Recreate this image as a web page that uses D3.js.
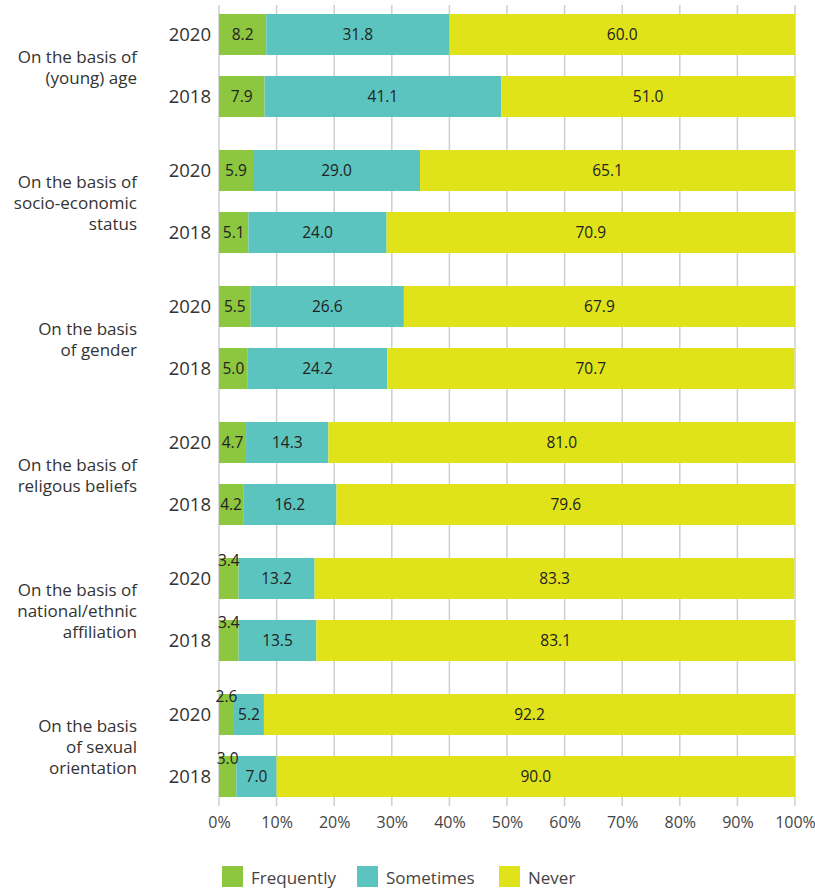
<!DOCTYPE html>
<html>
<head>
<meta charset="utf-8">
<script src="https://cdn.jsdelivr.net/npm/d3@7"></script>
<style>
  html, body { margin: 0; padding: 0; background: #fff; }
  svg { display: block; font-family: "Open Sans", "Noto Sans", sans-serif; }
</style>
</head>
<body>
<div id="chart"></div>
<script>
// Categories (each one split into two survey years)
const categories = [
  ["On the basis of", "(young) age"],
  ["On the basis of", "socio-economic", "status"],
  ["On the basis", "of gender"],
  ["On the basis of", "religous beliefs"],
  ["On the basis of", "national/ethnic", "affiliation"],
  ["On the basis", "of sexual", "orientation"]
];
const years = ["2020", "2018"];
const seriesNames = ["Frequently", "Sometimes", "Never"];
const seriesColors = ["#8dc63f", "#5bc4bf", "#e0e31a"];

// Shares per category, in the order 2020, 2018
const frequently = [[8.2, 7.9], [5.9, 5.1], [5.5, 5.0], [4.7, 4.2], [3.4, 3.4], [2.6, 3.0]];
const sometimes  = [[31.8, 41.1], [29.0, 24.0], [26.6, 24.2], [14.3, 16.2], [13.2, 13.5], [5.2, 7.0]];
const never      = [[60.0, 51.0], [65.1, 70.9], [67.9, 70.7], [81.0, 79.6], [83.3, 83.1], [92.2, 90.0]];
const tickValues = [0, 10, 20, 30, 40, 50, 60, 70, 80, 90, 100];

const W = 815, H = 890;
const svg = d3.select("#chart").append("svg").attr("width", W).attr("height", H);

const x = d3.scaleLinear().domain([0, 100]).range([219, 795]);

// Outer band = category group, inner band = year
const group = d3.scaleBand().domain(d3.range(categories.length)).range([-2.5, 813.5]);
const inner = d3.scaleBand().domain(years).range([0, group.bandwidth()]).paddingInner(0.339).paddingOuter(0.266);

// Rows flattened
const rows = [];
categories.forEach((c, i) => {
  years.forEach((yr, j) => {
    const vals = [frequently[i][j], sometimes[i][j], never[i][j]];
    let acc = 0;
    const segs = vals.map((v, k) => { const s = { k, v, x0: acc, x1: acc + v }; acc += v; return s; });
    rows.push({ i, yr, y: group(i) + inner(yr), segs });
  });
});

// Vertical gridlines
const gridTop = 5, gridBottom = 806;
svg.append("g").selectAll("line").data(tickValues).join("line")
  .attr("x1", d => x(d)).attr("x2", d => x(d))
  .attr("y1", gridTop).attr("y2", gridBottom)
  .attr("stroke", "#cfcfcf").attr("stroke-width", 1.5);

// X axis labels
const axis = d3.axisBottom(x).tickValues(tickValues).tickFormat(d => d + "%").tickSize(0).tickPadding(0);
const gAxis = svg.append("g").attr("transform", `translate(0, 817)`).call(axis);
gAxis.select(".domain").remove();
gAxis.selectAll("text").attr("font-size", 16).attr("fill", "#444").attr("dy", "0.71em")
  .attr("font-family", "\"Open Sans\", sans-serif");

// Bars
const bh = inner.bandwidth();
const rowG = svg.append("g").selectAll("g").data(rows).join("g")
  .attr("transform", d => `translate(0, ${d.y})`);

rowG.selectAll("rect").data(d => d.segs).join("rect")
  .attr("x", d => x(d.x0)).attr("width", d => x(d.x1) - x(d.x0))
  .attr("y", 0).attr("height", bh)
  .attr("fill", d => seriesColors[d.k]);

// Value labels: small segments get the label lifted to the bar top
rowG.selectAll("text.val").data(d => d.segs).join("text")
  .attr("class", "val")
  .attr("x", d => (x(d.x0) + x(d.x1)) / 2)
  .attr("y", d => d.v < 4 ? 3 : bh / 2)
  .attr("dy", "0.35em")
  .attr("text-anchor", "middle")
  .attr("font-size", 15.5)
  .attr("fill", "#222")
  .text(d => d.v.toFixed(1));

// Year labels
rowG.append("text")
  .attr("x", 211).attr("y", bh / 2).attr("dy", "0.35em")
  .attr("text-anchor", "end").attr("font-size", 18.5).attr("fill", "#333")
  .text(d => d.yr);

// Category labels
const lineH = 21;
svg.append("g").selectAll("text").data(categories).join("text")
  .attr("text-anchor", "end").attr("font-size", 17).attr("fill", "#333")
  .each(function (lines, i) {
    const cy = group(i) + inner("2020") + (inner("2018") + bh - inner("2020")) / 2 + 2;
    const t = d3.select(this);
    lines.forEach((ln, j) => {
      t.append("tspan").attr("x", 137)
        .attr("y", cy + (j - (lines.length - 1) / 2) * lineH)
        .attr("dy", "0.35em").text(ln);
    });
  });

// Legend
const legendX = [222, 357, 499];
const lg = svg.append("g").selectAll("g").data(seriesNames).join("g")
  .attr("transform", (d, i) => `translate(${legendX[i]}, 866)`);
lg.append("rect").attr("width", 21).attr("height", 21).attr("fill", (d, i) => seriesColors[i]);
lg.append("text").attr("x", 29).attr("y", 12).attr("dy", "0.35em")
  .attr("font-size", 17).attr("fill", "#444").text(d => d);
</script>
</body>
</html>
